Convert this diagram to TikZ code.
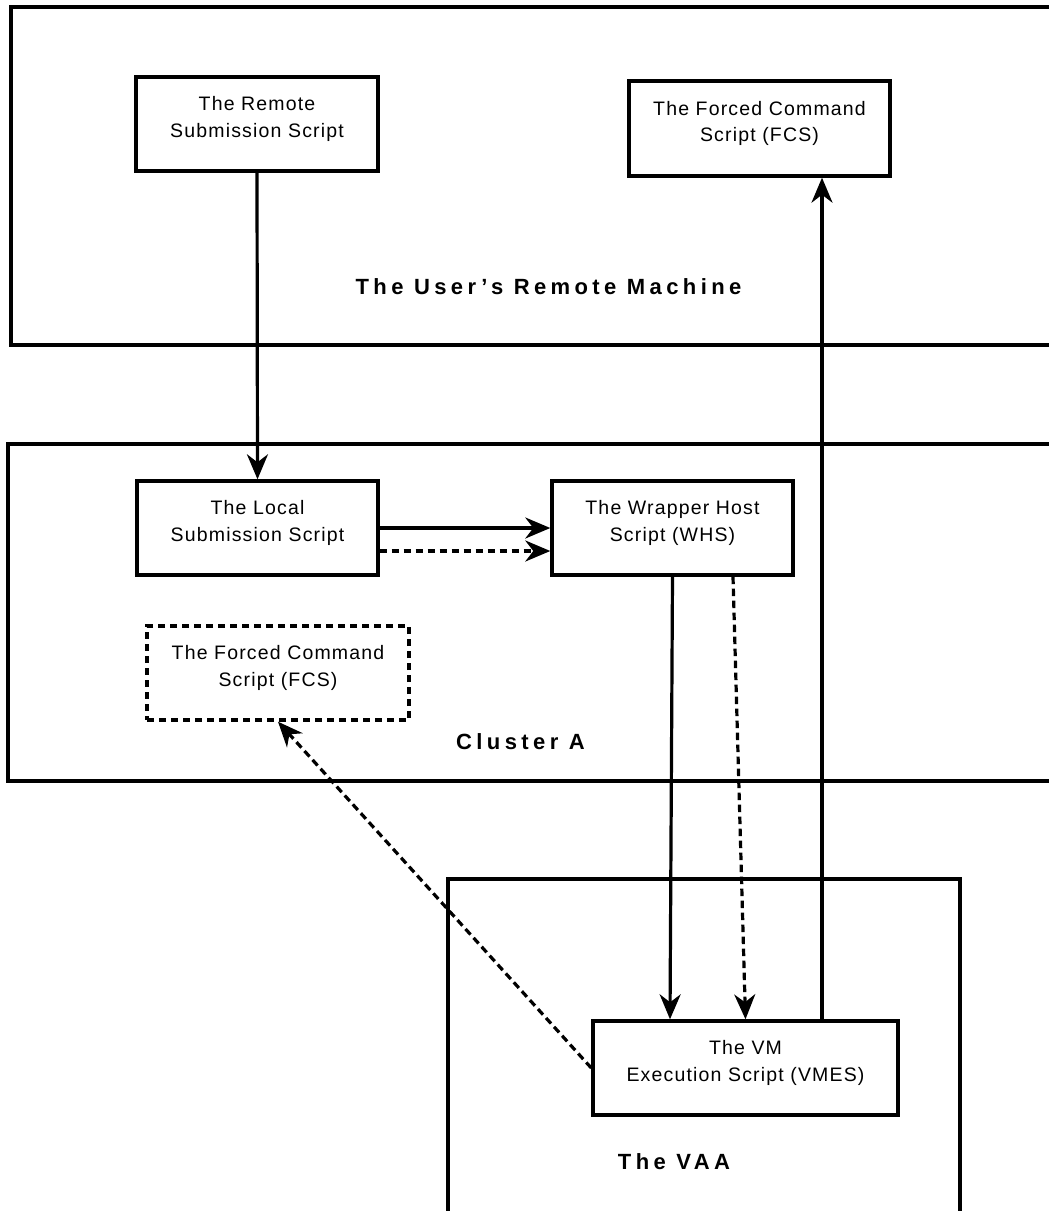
\documentclass[tikz,border=0pt]{standalone}
\usepackage{fontspec}
\usetikzlibrary{arrows.meta}
\newfontfamily\boxfont[LetterSpace=6]{Liberation Sans}
\newfontfamily\regionfont[LetterSpace=20]{Liberation Sans}
\begin{document}
\begin{tikzpicture}[x=1pt, y=-1pt,
    script/.style={draw, line width=3.4pt, inner sep=0pt, align=center,
        font=\boxfont\fontsize{19.5}{26.5}\selectfont,
        execute at end node={\rule[-14pt]{0pt}{0pt}}},
    region/.style={line width=3.4pt},
    regionlabel/.style={font=\regionfont\bfseries\fontsize{22}{26}\selectfont},
    flow/.style={line width=3.2pt, -{Stealth[length=25pt, width=21pt, inset=8pt]}},
    reply/.style={flow, dash pattern=on 7.5pt off 4.5pt}]
    \useasboundingbox (0,0) rectangle (1049,1211);
    \clip (0,0) rectangle (1049,1211);
    \fill[white] (0,0) rectangle (1049,1211);
    \draw[region] (11,7) rectangle (1100,345);
    \draw[region] (8,444) rectangle (1100,781);
    \draw[region] (448,879) rectangle (960,1260);
    \node[regionlabel] (usrlab) at (548.5,287) {The User’s Remote Machine};
    \node[regionlabel] (clulab) at (520.5,742) {Cluster A};
    \node[regionlabel] (vaalab) at (674,1162) {The VAA};
    \node[script, minimum width=242pt, minimum height=94pt] (remote) at (257,124) {The Remote\\Submission Script};
    \node[script, minimum width=261pt, minimum height=95pt] (fcsrem) at (759.5,128.5) {The Forced Command\\Script (FCS)};
    \node[script, minimum width=241pt, minimum height=94pt] (local) at (257.5,528) {The Local\\Submission Script};
    \node[script, minimum width=241pt, minimum height=94pt] (whs) at (672.5,528) {The Wrapper Host\\Script (WHS)};
    \node[script, dash pattern=on 7pt off 5pt, minimum width=262pt, minimum height=94pt] (fcsloc) at (278,673) {The Forced Command\\Script (FCS)};
    \node[script, minimum width=305pt, minimum height=94pt] (vmes) at (745.5,1068) {The VM\\Execution Script (VMES)};
    \draw[flow] (remote.south) -- (local.north);
    \draw[flow] (local.east) -- (whs.west);
    \draw[reply] ([yshift=-23pt]local.east) -- ([yshift=-23pt]whs.west);
    \draw[flow] (whs.south) -- ([xshift=-75.5pt]vmes.north);
    \draw[reply] ([xshift=60.5pt]whs.south) -- (vmes.north);
    \draw[flow] ([xshift=76.5pt]vmes.north) -- ([xshift=76.5pt]vmes.north |- fcsrem.south);
    \draw[reply] (vmes.west) -- (fcsloc.south);
\end{tikzpicture}
\end{document}
